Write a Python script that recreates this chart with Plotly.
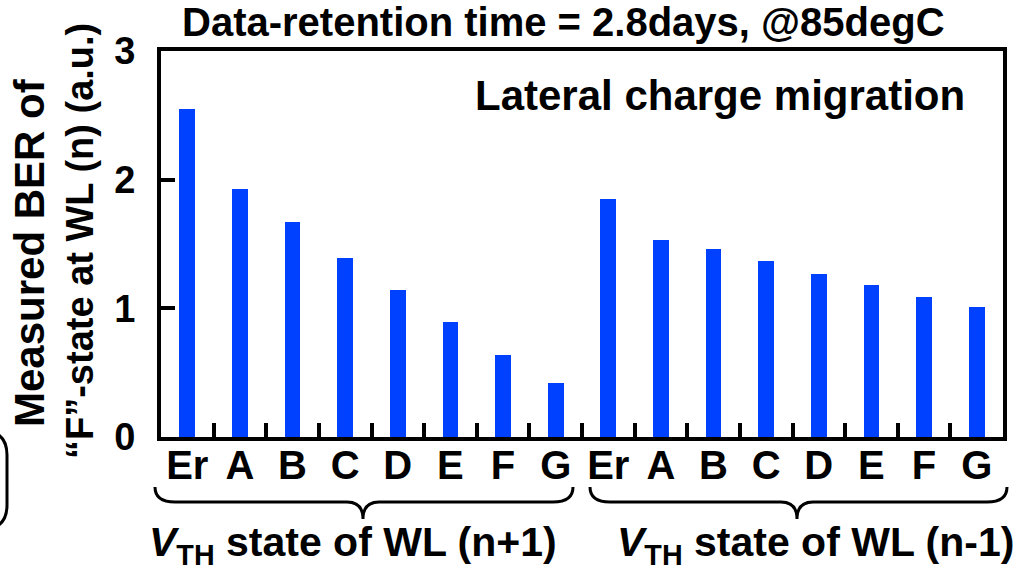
import plotly.graph_objects as go

# ---- data ----
states = ["Er", "A", "B", "C", "D", "E", "F", "G"]
ber_wl_n_plus_1 = [2.55, 1.93, 1.67, 1.39, 1.14, 0.89, 0.64, 0.42]
ber_wl_n_minus_1 = [1.85, 1.53, 1.46, 1.37, 1.27, 1.18, 1.09, 1.01]
tick_labels = states + states
values = ber_wl_n_plus_1 + ber_wl_n_minus_1
xpos = list(range(len(values)))
boundaries = [i + 0.5 for i in range(len(values) - 1)]
y_ticks = [0, 1, 2, 3]

W, H = 1021, 570
L, R, T, B = 161, 18, 51, 133
PW, PH = W - L - R, H - T - B

def px(x):
    return (x - L) / PW

def py(y):
    return (H - B - y) / PH

FONT = "Liberation Sans, Arial, sans-serif"

fig = go.Figure()
fig.add_trace(go.Bar(
    x=xpos, y=values, width=0.3,
    marker=dict(color="#0040ff", line=dict(width=0)),
    showlegend=False, hoverinfo="skip",
))
# invisible trace to carry the boundary-tick axis
fig.add_trace(go.Scatter(
    x=[boundaries[0]], y=[0], xaxis="x2", mode="markers",
    marker=dict(opacity=0), showlegend=False, hoverinfo="skip",
))

fig.update_layout(
    width=W, height=H,
    margin=dict(l=L, r=R, t=T, b=B, pad=0),
    plot_bgcolor="white", paper_bgcolor="white",
    font=dict(family=FONT, color="black"),
    bargap=0,
    xaxis=dict(
        range=[-0.5, len(values) - 0.5],
        tickmode="array", tickvals=xpos, ticktext=[f"<b>{t}</b>" for t in tick_labels],
        ticks="", showgrid=False, zeroline=False,
        showline=True, linewidth=4, linecolor="black", mirror=True,
        tickfont=dict(size=40, family=FONT),
        ticklabelstandoff=-10,
    ),
    xaxis2=dict(
        overlaying="x", anchor="y", side="bottom",
        range=[-0.5, len(values) - 0.5],
        tickmode="array", tickvals=boundaries,
        ticks="inside", ticklen=14, tickwidth=4, tickcolor="black",
        showticklabels=False, showgrid=False, zeroline=False, showline=False,
    ),
    yaxis=dict(
        range=[0, 3], tickmode="array", tickvals=y_ticks,
        ticktext=[f"<b>{v}</b>" for v in y_ticks],
        ticks="inside", ticklen=14, tickwidth=4, tickcolor="black",
        showgrid=False, zeroline=False,
        showline=True, linewidth=4, linecolor="black", mirror=True,
        tickfont=dict(size=38, family=FONT),
        ticklabelstandoff=14,
    ),
)

# title
fig.add_annotation(
    text="<b>Data-retention time = 2.8days, @85degC</b>",
    xref="paper", yref="paper", x=px(563), y=py(22), xanchor="center", yanchor="middle",
    showarrow=False, font=dict(size=40, family=FONT),
)
# inner label
fig.add_annotation(
    text="<b>Lateral charge migration</b>",
    xref="paper", yref="paper", x=px(967), y=py(96), xanchor="right", yanchor="middle",
    showarrow=False, font=dict(size=42, family=FONT),
)
# y-axis title (two lines)
fig.add_annotation(
    text="<b>Measured BER of</b>",
    xref="paper", yref="paper", x=px(29), y=py(253), xanchor="center", yanchor="middle",
    textangle=-90, showarrow=False, font=dict(size=42, family=FONT),
)
fig.add_annotation(
    text="<b>\u201cF\u201d-state at WL (n) (a.u.)</b>",
    xref="paper", yref="paper", x=px(80), y=py(241), xanchor="center", yanchor="middle",
    textangle=-90, showarrow=False, font=dict(size=38, family=FONT),
)
# group labels
fig.add_annotation(
    text="<b><i>V</i><sub>TH</sub> state of WL (n+1)</b>",
    xref="paper", yref="paper", x=px(353), y=py(545), xanchor="center", yanchor="middle",
    showarrow=False, font=dict(size=41, family=FONT),
)
fig.add_annotation(
    text="<b><i>V</i><sub>TH</sub> state of WL (n-1)</b>",
    xref="paper", yref="paper", x=px(815), y=py(545), xanchor="center", yanchor="middle",
    showarrow=False, font=dict(size=41, family=FONT),
)

# braces
def brace(x0, x1, xc, ytop=487, ymid=502, ybot=519, r=20, r2=16):
    pts = [
        ("M", [(x0, ytop)]),
        ("Q", [(x0, ymid), (x0 + r, ymid)]),
        ("L", [(xc - r2, ymid)]),
        ("Q", [(xc, ymid), (xc, ybot)]),
        ("Q", [(xc, ymid), (xc + r2, ymid)]),
        ("L", [(x1 - r, ymid)]),
        ("Q", [(x1, ymid), (x1, ytop)]),
    ]
    s = ""
    for cmd, ps in pts:
        s += cmd + " " + " ".join(f"{px(a):.5f},{py(b):.5f}" for a, b in ps) + " "
    return s.strip()

for x0, x1, xc in [(155, 573, 363), (590, 1007, 797)]:
    fig.add_shape(type="path", path=brace(x0, x1, xc), xref="paper", yref="paper",
                  line=dict(color="black", width=3))

# partial rounded box at left edge (cropped artifact)
pth = f"M {px(-20):.5f},{py(430):.5f} Q {px(7):.5f},{py(430):.5f} {px(7):.5f},{py(455):.5f} L {px(7):.5f},{py(505):.5f} Q {px(7):.5f},{py(530):.5f} {px(-20):.5f},{py(530):.5f}"
fig.add_shape(type="path", path=pth, xref="paper", yref="paper", line=dict(color="black", width=3))

fig.write_html("out.html")
